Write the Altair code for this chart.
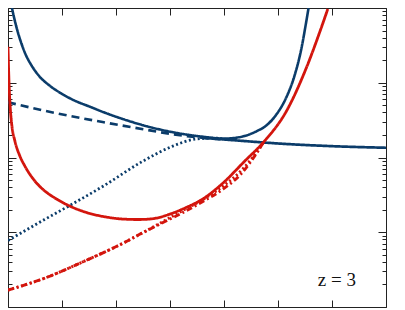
import altair as alt
import pandas as pd

# ---- data ----
bs_x = [0.073, 0.110, 0.165, 0.238, 0.329, 0.439, 0.585, 0.768, 0.987, 1.225, 1.499, 1.773, 2.139, 2.504,
        3.052, 3.601, 4.003, 4.332, 4.606, 4.789, 4.972, 5.154, 5.301, 5.429, 5.538, 5.566]
bs_y = [100, 75.9, 52.6, 35.3, 23.7, 16.9, 12.1, 9.19, 7.19, 5.81, 4.83, 4.03, 3.25, 2.70,
        2.18, 1.90, 1.79, 1.90, 2.25, 2.70, 3.78, 6.37, 12.1, 27.7, 75.9, 100]

bd_x = [0.0, 0.859, 1.773, 2.504, 3.052, 3.656, 4.058]
bd_y = [5.47, 3.96, 2.96, 2.39, 2.05, 1.82, 1.73]

bt_x = [3.656, 4.058, 4.570, 5.063, 5.977, 7.0]
bt_y = [1.82, 1.73, 1.62, 1.53, 1.42, 1.35]

bo_x = [0.0, 0.676, 1.170, 1.773, 2.504, 3.052, 3.473, 3.838, 4.058]
bo_y = [0.0776, 0.148, 0.234, 0.418, 0.898, 1.42, 1.76, 1.82, 1.73]

rs_x = [0.0, 0.018, 0.046, 0.073, 0.128, 0.219, 0.311, 0.494, 0.676, 0.859, 1.133, 1.462, 1.773, 2.139,
        2.413, 2.687, 2.998, 3.290, 3.601, 3.966, 4.387, 4.734, 5.154, 5.520, 5.794, 5.922]
rs_y = [30.3, 10.4, 4.15, 2.62, 1.66, 1.05, 0.771, 0.488, 0.359, 0.290, 0.226, 0.183, 0.162, 0.150,
        0.148, 0.152, 0.175, 0.213, 0.277, 0.445, 0.899, 1.61, 4.15, 15.5, 52.6, 97]

rdd_x = [0.0, 0.676, 1.407, 2.084, 2.504, 2.870, 3.235, 3.601, 3.966, 4.332, 4.606, 4.734]
rdd_y = [0.01683, 0.02427, 0.0408, 0.0687, 0.0993, 0.135, 0.183, 0.256, 0.370, 0.622, 1.15, 1.61]

ro_x = [0.0, 0.676, 1.407, 2.084, 2.504, 2.870, 3.235, 3.601, 3.966, 4.332, 4.606, 4.734]
ro_y = [0.01683, 0.02427, 0.0408, 0.0687, 0.0993, 0.139, 0.195, 0.272, 0.406, 0.682, 1.18, 1.61]

label_text = ["z = 3"]
label_x = [6.09]
label_y = [0.019]

x_ticks = [0, 1, 2, 3, 4, 5, 6, 7]
y_ticks = [m * 10.0 ** e for e in range(-2, 2) for m in range(1, 10)] + [100.0]

series = [
    ("a_blue_solid", bs_x, bs_y),
    ("b_blue_dash", bd_x, bd_y),
    ("c_blue_thin", bt_x, bt_y),
    ("d_blue_dot", bo_x, bo_y),
    ("e_red_solid", rs_x, rs_y),
    ("f_red_dashdot", rdd_x, rdd_y),
    ("g_red_dot", ro_x, ro_y),
]
rows = []
for name, xs, ys in series:
    for i, (xv, yv) in enumerate(zip(xs, ys)):
        rows.append({"s": name, "x": xv, "y": yv, "i": i})
df = pd.DataFrame(rows)

names = [s[0] for s in series]
BLUE = "#0b3c6a"
RED = "#d3150d"
colors = [BLUE, BLUE, BLUE, BLUE, RED, RED, RED]
dashes = [[1, 0], [8, 5], [1, 0], [2, 2.5], [1, 0], [6, 3, 2, 3], [2, 2.5]]
widths = [2.6, 2.9, 1.2, 2.9, 2.6, 2.9, 2.6]

TICK = "#222222"
major_test = "abs(log(datum.value)/LN10 - round(log(datum.value)/LN10)) < 0.001"


def y_axis(orient):
    return alt.Axis(orient=orient, values=y_ticks, labels=False, title=None, domain=False,
                    grid=False, tickColor=TICK, tickWidth=1,
                    tickSize={"condition": {"test": major_test, "value": -8}, "value": -4})


def x_axis(orient):
    return alt.Axis(orient=orient, values=x_ticks, labels=False, title=None, domain=False,
                    grid=False, tickColor=TICK, tickWidth=1,
                    tickSize={"condition": {"test": "true", "value": -7}, "value": -7})


xs_scale = alt.Scale(domain=[0, 7], nice=False, zero=False)
ys_scale = alt.Scale(type="log", domain=[0.01, 100], nice=False)

lines = alt.Chart(df).mark_line(interpolate="monotone", clip=True).encode(
    x=alt.X("x:Q", scale=xs_scale, axis=x_axis("bottom")),
    y=alt.Y("y:Q", scale=ys_scale, axis=y_axis("left")),
    color=alt.Color("s:N", scale=alt.Scale(domain=names, range=colors), legend=None),
    strokeDash=alt.StrokeDash("s:N", scale=alt.Scale(domain=names, range=dashes), legend=None),
    strokeWidth=alt.StrokeWidth("s:N", scale=alt.Scale(domain=names, range=widths), legend=None),
    order="i:Q",
)

lab_df = pd.DataFrame({"x": label_x, "y": label_y, "t": label_text})
label = alt.Chart(lab_df).mark_text(font="Liberation Serif, DejaVu Serif, serif", fontSize=19,
                                     align="center", baseline="alphabetic", color="#111111").encode(
    x=alt.X("x:Q", scale=xs_scale, axis=x_axis("top")),
    y=alt.Y("y:Q", scale=ys_scale, axis=y_axis("right")),
    text="t:N",
)

chart = alt.layer(lines, label).resolve_scale(x="independent", y="independent").properties(
    width=378, height=299, autosize="none",
    padding={"left": 0, "top": 0, "right": 2, "bottom": 2},
).configure_view(stroke="#222222", strokeWidth=1)

chart.save("out.html", embed_options={"renderer": "svg", "actions": False})
